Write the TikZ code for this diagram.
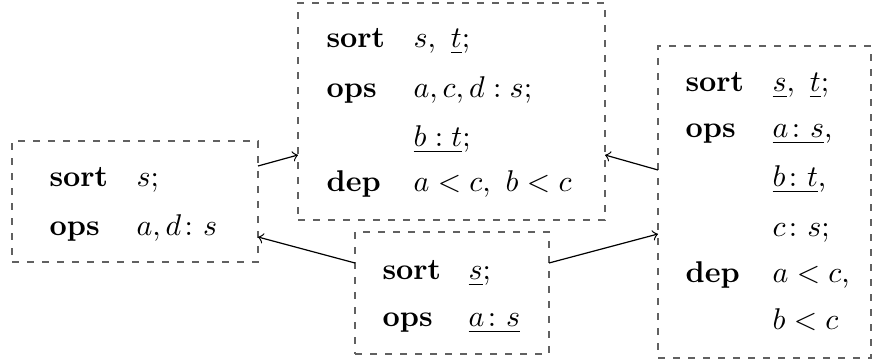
\documentclass[tikz,border=0pt]{standalone}
\usepackage{amsmath}
\begin{document}
\begin{tikzpicture}[x=0.33333pt, y=-0.33333pt,
  sigbox/.style={draw=black!62, dash pattern=on 2.4pt off 2.6pt, line width=0.4pt,
    rectangle, inner sep=0pt, outer sep=0pt},
  kw/.style={anchor=base west, inner sep=0pt, font=\bfseries},
  entry/.style={anchor=base west, inner sep=0pt},
  link/.style={->, line width=0.4pt}]
\useasboundingbox (0,0) rectangle (873,361);

% specification boxes
\node[sigbox, minimum width={246*0.33333pt}, minimum height={121*0.33333pt}] (L) at (135,201.5) {};
\node[sigbox, minimum width={307*0.33333pt}, minimum height={217*0.33333pt}] (T) at (451.5,111.5) {};
\node[sigbox, minimum width={194*0.33333pt}, minimum height={122*0.33333pt}] (B) at (452,293) {};
\node[sigbox, minimum width={213*0.33333pt}, minimum height={312*0.33333pt}] (R) at (764.5,202) {};

% left specification
\node[kw] (Lk1) at (49,187) {sort};
\node[entry] (Le1) at (136,187) {$s$;};
\node[kw] (Lk2) at (49,236) {ops};
\node[entry] (Le2) at (136,236) {$a,d\colon s$};

% top specification
\node[kw] (Tk1) at (326,48) {sort};
\node[entry] (Te1) at (413,48) {$s,\ \underline{t}$;};
\node[kw] (Tk2) at (326,98) {ops};
\node[entry] (Te2) at (413,98) {$a,c,d : s$;};
\node[entry] (Te3) at (413,147) {$\underline{b : t}$;};
\node[kw] (Tk3) at (326,192) {dep};
\node[entry] (Te4) at (413,192) {$a<c,\ b<c$};

% bottom specification
\node[kw] (Bk1) at (382,280) {sort};
\node[entry] (Be1) at (468,280) {$\underline{s}$;};
\node[kw] (Bk2) at (382,327) {ops};
\node[entry] (Be2) at (468,327) {$\underline{a\colon s}$};

% right specification
\node[kw] (Rk1) at (685,92) {sort};
\node[entry] (Re1) at (772,92) {$\underline{s},\ \underline{t}$;};
\node[kw] (Rk2) at (685,138) {ops};
\node[entry] (Re2) at (772,138) {$\underline{a\colon s}$,};
\node[entry] (Re3) at (772,187) {$\underline{b\colon t}$,};
\node[entry] (Re4) at (772,237) {$c\colon s$;};
\node[kw] (Rk3) at (685,283) {dep};
\node[entry] (Re5) at (772,283) {$a<c$,};
\node[entry] (Re6) at (772,330) {$b<c$};

% morphisms
\draw[link] (L.east |- 0,166) -- (T.west |- 0,155);
\draw[link] (B.west |- 0,263) -- (L.east |- 0,237);
\draw[link] (B.east |- 0,263) -- (R.west |- 0,234);
\draw[link] (R.west |- 0,170) -- (T.east |- 0,155);
\end{tikzpicture}
\end{document}
